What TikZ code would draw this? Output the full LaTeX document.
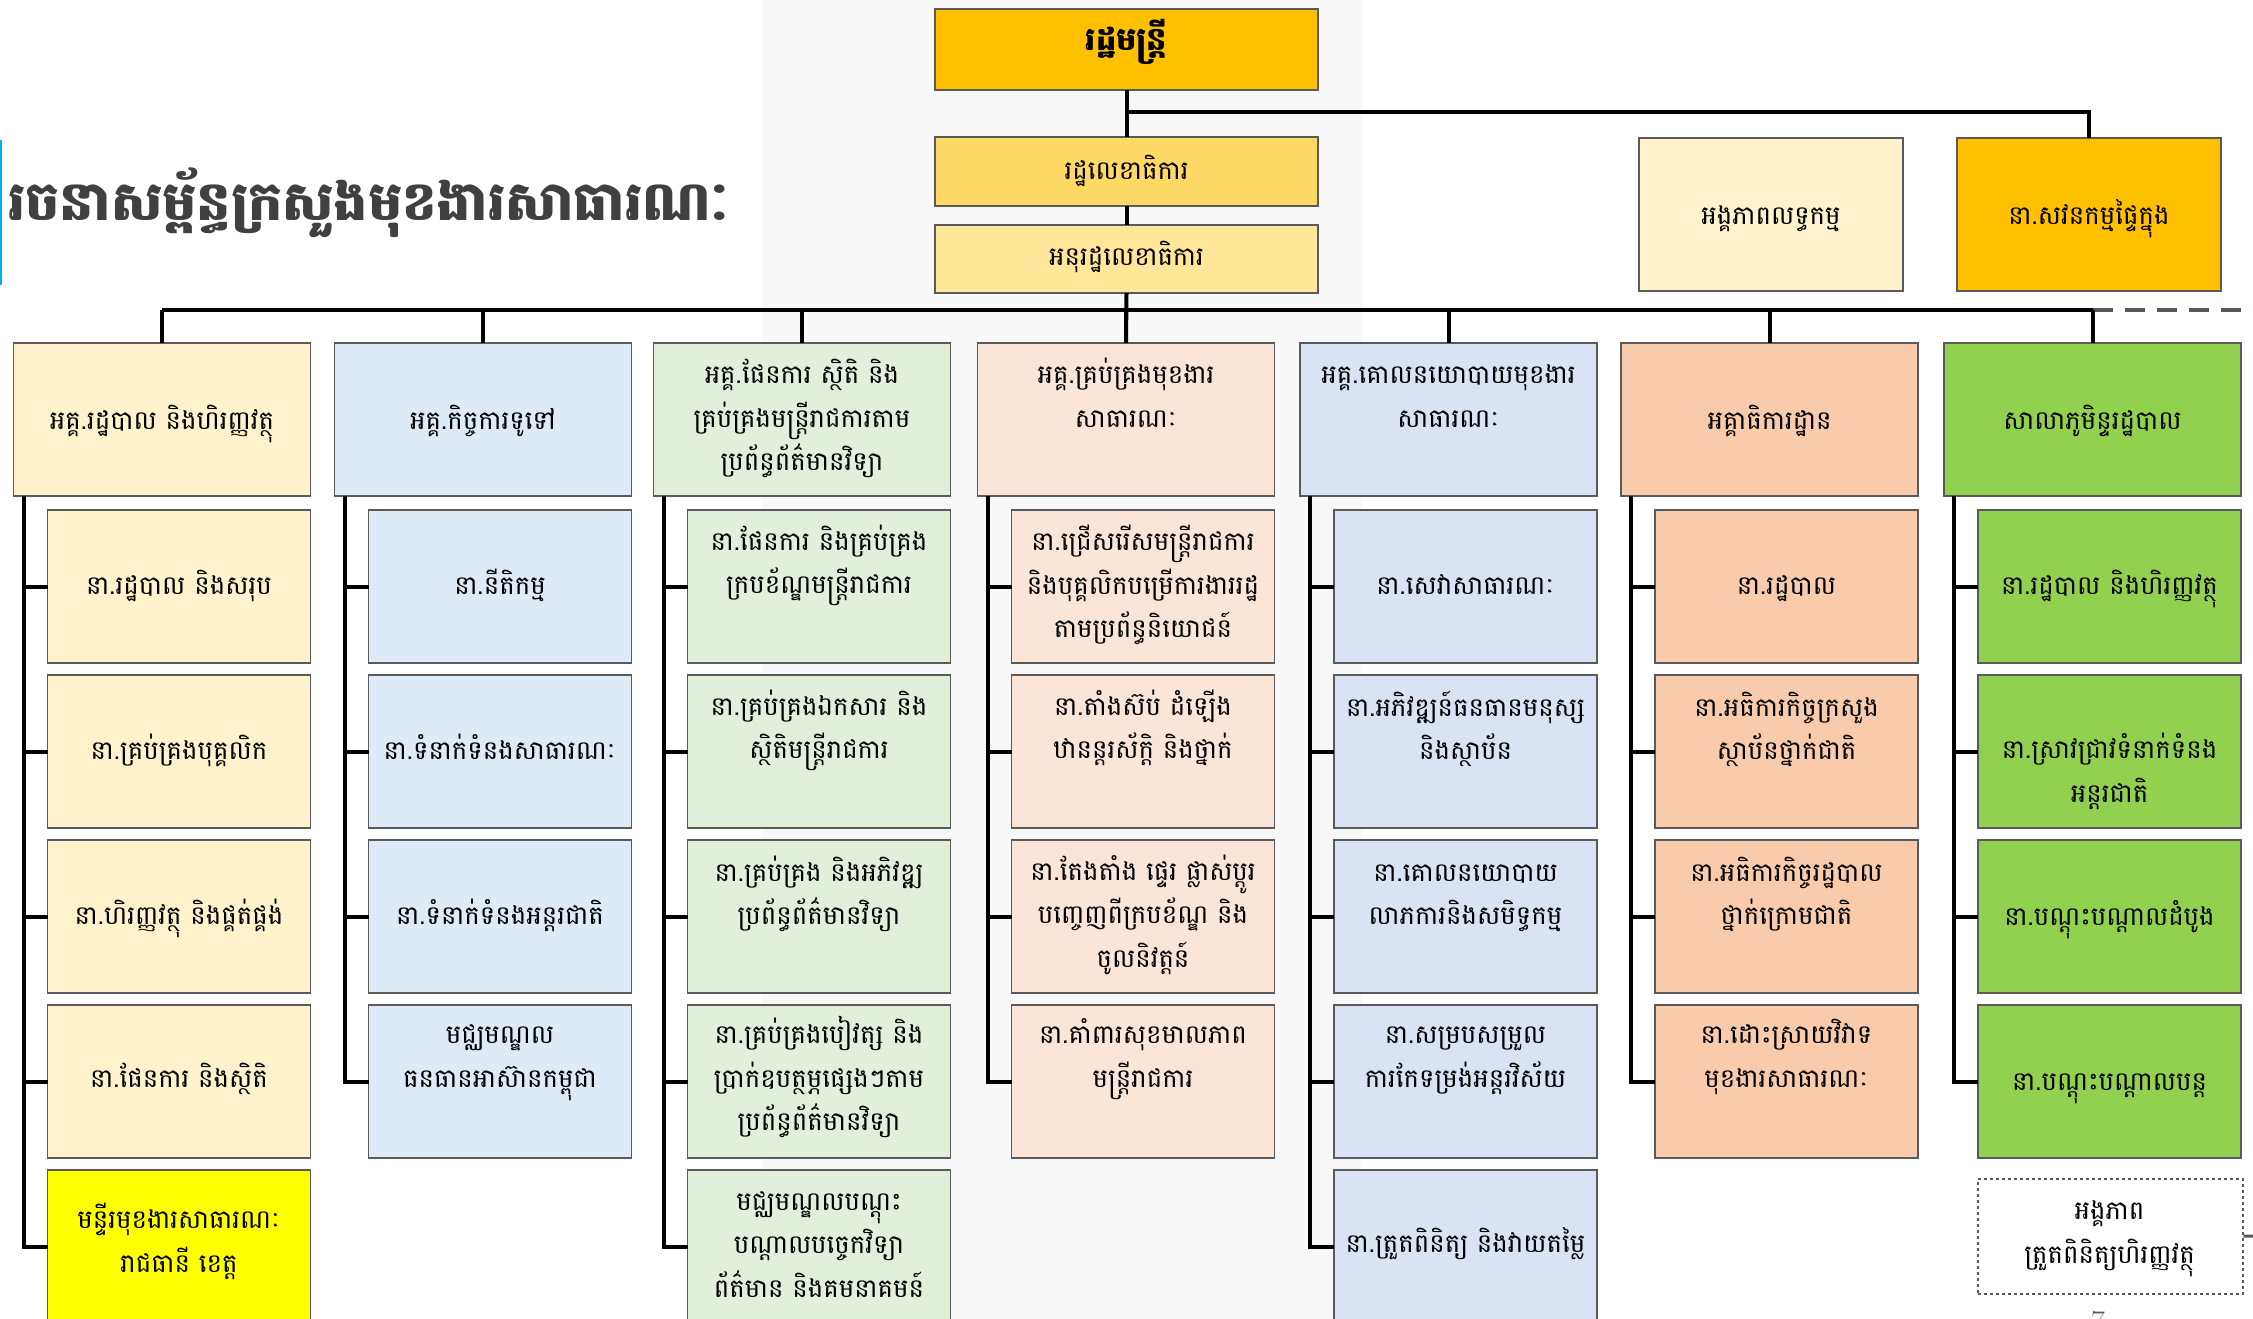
\documentclass[tikz,border=0pt]{standalone}
\usepackage{fontspec}
\newfontfamily\kh[Script=Khmer]{Battambang}
\usetikzlibrary{calc}
\definecolor{bandgray}{HTML}{F8F8F8}
\definecolor{edge}{HTML}{5A5A5A}
\definecolor{cTop}{HTML}{FFC000}
\definecolor{cSec}{HTML}{FFD966}
\definecolor{cDep}{HTML}{FFE699}
\definecolor{cA}{HTML}{FFF2CC}
\definecolor{cB}{HTML}{DEEBF7}
\definecolor{cC}{HTML}{E2EFDA}
\definecolor{cD}{HTML}{FBE5D6}
\definecolor{cE}{HTML}{DAE3F3}
\definecolor{cF}{HTML}{F8CBAD}
\definecolor{cG}{HTML}{92D050}
\definecolor{cY}{HTML}{FFFF00}
\definecolor{titlegray}{HTML}{404040}
\definecolor{cyanline}{HTML}{00B0F0}
\definecolor{dashgray}{HTML}{595959}
\newcommand\KL[1]{\smash{#1}\vrule width 0pt height 28pt depth 14pt}
\tikzset{
  frame/.style={draw=edge, line width=1.5pt, inner sep=0pt, outer sep=0pt},
  headbox/.style={frame, minimum width=297pt, minimum height=153pt},
  subbox/.style={frame, minimum width=263pt, minimum height=153pt},
  tx/.style={inner sep=0pt, align=center, font=\kh\fontsize{26}{43.5}\selectfont},
  conn/.style={draw=black, line width=4pt},
}
\newcommand\HB[5]{\node[headbox,fill=#2,anchor=north west] (#1) at (#3,343) {};
  \node[tx] (#1t) at (#3+148.5,#5) {#4};}
\newcommand\SB[6]{\node[subbox,fill=#2,anchor=north west] (#1) at (#3+34,#4) {};
  \node[tx] (#1t) at (#3+165.5,#6) {#5};}
\newcommand\CN[2]{\draw[conn] ([xshift=10pt]#1.south west) |- (#2.west);}
\begin{document}
\begin{tikzpicture}[x=1pt,y=-1pt]
\useasboundingbox (0,0) rectangle (2253,1319);
\fill[white] (0,0) rectangle (2253,1319);
\fill[bandgray] (762,0) rectangle (1362,1319);
\fill[cyanline] (0,140) rectangle (2,285);
% title
\node[anchor=west, inner sep=0pt, font=\kh\bfseries\fontsize{54}{60}\selectfont, text=titlegray] (title) at (8,205) {\smash{រចនាសម្ព័ន្ធក្រសួងមុខងារសាធារណៈ}\vrule width 0pt height 30pt depth 0pt};
% top boxes
\node[frame, fill=cTop, minimum width=383pt, minimum height=81pt, anchor=north west] (top) at (935,9) {};
\node[frame, fill=cSec, minimum width=383pt, minimum height=69pt, anchor=north west] (sec) at (935,137) {};
\node[frame, fill=cDep, minimum width=383pt, minimum height=68pt, anchor=north west] (dep) at (935,225) {};
\node[frame, fill=cA, minimum width=264pt, minimum height=153pt, anchor=north west] (proc) at (1639,138) {};
\node[frame, fill=cTop, minimum width=264pt, minimum height=153pt, anchor=north west] (aud) at (1957,138) {};
\node[tx, font=\kh\bfseries\fontsize{32}{43.5}\selectfont] (topt) at (1126.5,44) {\KL{រដ្ឋមន្ត្រី}};
\node[tx] (sect) at (1126.5,172) {\KL{រដ្ឋលេខាធិការ}};
\node[tx] (dept) at (1126.5,258) {\KL{អនុរដ្ឋលេខាធិការ}};
\node[tx] (proct) at (1771,217) {\KL{អង្គភាពលទ្ធកម្ម}};
\node[tx] (audt) at (2089,217) {\KL{នា.សវនកម្មផ្ទៃក្នុង}};
% column heads
\HB{c1}{cA}{13.5}{\KL{អគ្គ.រដ្ឋបាល និងហិរញ្ញវត្ថុ}}{422}
\HB{c2}{cB}{334.5}{\KL{អគ្គ.កិច្ចការទូទៅ}}{422}
\HB{c3}{cC}{653.5}{\KL{អគ្គ.ផែនការ ស្ថិតិ និង}\\\KL{គ្រប់គ្រងមន្ត្រីរាជការតាម}\\\KL{ប្រព័ន្ធព័ត៌មានវិទ្យា}}{420}
\HB{c4}{cD}{977.5}{\KL{អគ្គ.គ្រប់គ្រងមុខងារ}\\\KL{សាធារណៈ}}{398.5}
\HB{c5}{cE}{1300}{\KL{អគ្គ.គោលនយោបាយមុខងារ}\\\KL{សាធារណៈ}}{398.5}
\HB{c6}{cF}{1621}{\KL{អគ្គាធិការដ្ឋាន}}{422}
\HB{c7}{cG}{1944}{\KL{សាលាភូមិន្ទរដ្ឋបាល}}{422}
% column 1
\SB{a1}{cA}{13.5}{510}{\KL{នា.រដ្ឋបាល និងសរុប}}{587}
\SB{a2}{cA}{13.5}{675}{\KL{នា.គ្រប់គ្រងបុគ្គលិក}}{752}
\SB{a3}{cA}{13.5}{840}{\KL{នា.ហិរញ្ញវត្ថុ និងផ្គត់ផ្គង់}}{917}
\SB{a4}{cA}{13.5}{1005}{\KL{នា.ផែនការ និងស្ថិតិ}}{1080}
\SB{a5}{cY}{13.5}{1170}{\KL{មន្ទីរមុខងារសាធារណៈ}\\\KL{រាជធានី ខេត្ត}}{1243.5}
% column 2
\SB{b1}{cB}{334.5}{510}{\KL{នា.នីតិកម្ម}}{587}
\SB{b2}{cB}{334.5}{675}{\KL{នា.ទំនាក់ទំនងសាធារណៈ}}{752}
\SB{b3}{cB}{334.5}{840}{\KL{នា.ទំនាក់ទំនងអន្តរជាតិ}}{917}
\SB{b4}{cB}{334.5}{1005}{\KL{មជ្ឈមណ្ឌល}\\\KL{ធនធានអាស៊ានកម្ពុជា}}{1058.5}
% column 3
\SB{d1}{cC}{653.5}{510}{\KL{នា.ផែនការ និងគ្រប់គ្រង}\\\KL{ក្របខ័ណ្ឌមន្ត្រីរាជការ}}{565}
\SB{d2}{cC}{653.5}{675}{\KL{នា.គ្រប់គ្រងឯកសារ និង}\\\KL{ស្ថិតិមន្ត្រីរាជការ}}{730}
\SB{d3}{cC}{653.5}{840}{\KL{នា.គ្រប់គ្រង និងអភិវឌ្ឍ}\\\KL{ប្រព័ន្ធព័ត៌មានវិទ្យា}}{896}
\SB{d4}{cC}{653.5}{1005}{\KL{នា.គ្រប់គ្រងបៀវត្ស និង}\\\KL{ប្រាក់ឧបត្ថម្ភផ្សេងៗតាម}\\\KL{ប្រព័ន្ធព័ត៌មានវិទ្យា}}{1080}
\SB{d5}{cC}{653.5}{1170}{\KL{មជ្ឈមណ្ឌលបណ្តុះ}\\\KL{បណ្តាលបច្ចេកវិទ្យា}\\\KL{ព័ត៌មាន និងគមនាគមន៍}}{1246.5}
% column 4
\SB{e1}{cD}{977.5}{510}{\KL{នា.ជ្រើសរើសមន្ត្រីរាជការ}\\\KL{និងបុគ្គលិកបម្រើការងាររដ្ឋ}\\\KL{តាមប្រព័ន្ធនិយោជន៍}}{587}
\SB{e2}{cD}{977.5}{675}{\KL{នា.តាំងស៊ប់ ដំឡើង}\\\KL{ឋានន្តរស័ក្តិ និងថ្នាក់}}{730}
\SB{e3}{cD}{977.5}{840}{\KL{នា.តែងតាំង ផ្ទេរ ផ្លាស់ប្តូរ}\\\KL{បញ្ចេញពីក្របខ័ណ្ឌ និង}\\\KL{ចូលនិវត្តន៍}}{916.5}
\SB{e4}{cD}{977.5}{1005}{\KL{នា.គាំពារសុខមាលភាព}\\\KL{មន្ត្រីរាជការ}}{1058.5}
% column 5
\SB{f1}{cE}{1300}{510}{\KL{នា.សេវាសាធារណៈ}}{587}
\SB{f2}{cE}{1300}{675}{\KL{នា.អភិវឌ្ឍន៍ធនធានមនុស្ស}\\\KL{និងស្ថាប័ន}}{731}
\SB{f3}{cE}{1300}{840}{\KL{នា.គោលនយោបាយ}\\\KL{លាភការនិងសមិទ្ធកម្ម}}{896}
\SB{f4}{cE}{1300}{1005}{\KL{នា.សម្របសម្រួល}\\\KL{ការកែទម្រង់អន្តរវិស័យ}}{1058.5}
\SB{f5}{cE}{1300}{1170}{\KL{នា.ត្រួតពិនិត្យ និងវាយតម្លៃ}}{1245}
% column 6
\SB{g1}{cF}{1621}{510}{\KL{នា.រដ្ឋបាល}}{587}
\SB{g2}{cF}{1621}{675}{\KL{នា.អធិការកិច្ចក្រសួង}\\\KL{ស្ថាប័នថ្នាក់ជាតិ}}{731}
\SB{g3}{cF}{1621}{840}{\KL{នា.អធិការកិច្ចរដ្ឋបាល}\\\KL{ថ្នាក់ក្រោមជាតិ}}{896}
\SB{g4}{cF}{1621}{1005}{\KL{នា.ដោះស្រាយវិវាទ}\\\KL{មុខងារសាធារណៈ}}{1058.5}
% column 7
\SB{h1}{cG}{1944}{510}{\KL{នា.រដ្ឋបាល និងហិរញ្ញវត្ថុ}}{587}
\SB{h2}{cG}{1944}{675}{\KL{នា.ស្រាវជ្រាវទំនាក់ទំនង}\\\KL{អន្តរជាតិ}}{773.5}
\SB{h3}{cG}{1944}{840}{\KL{នា.បណ្តុះបណ្តាលដំបូង}}{918}
\SB{h4}{cG}{1944}{1005}{\KL{នា.បណ្តុះបណ្តាលបន្ត}}{1083}
% dashed unit
\node[draw=dashgray, dashed, line width=1.5pt, fill=white, minimum width=265pt, minimum height=115pt, inner sep=0pt, anchor=north west] (ins) at (1977,1178) {};
\node[tx] (inst) at (2109.5,1234.5) {\KL{អង្គភាព}\\\KL{ត្រួតពិនិត្យហិរញ្ញវត្ថុ}};
\coordinate (insR) at (2253,1236);
\draw[draw=dashgray, line width=3pt] (ins.east) -- (insR);
% top connectors
\coordinate (j1) at (1126.5,112);
\draw[conn] (top.south) -- (sec.north);
\draw[conn] (sec.south) -- (dep.north);
\draw[conn] (dep.south) -- (c4.north);
\draw[conn] (j1) -| (aud.north);
% bus
\coordinate (busL) at (162,310);
\coordinate (busR) at (2092.5,310);
\coordinate (edgeR) at (2253,310);
\draw[conn] (busL) -- (busR);
\draw[draw=dashgray, line width=4pt, dash pattern=on 20pt off 12pt] (busR) -- (edgeR);
\foreach \c in {c1,c2,c3,c4,c5,c6,c7} \draw[conn] (\c.north) -- (\c.north |- busL);
% column connectors
\CN{c1}{a1}\CN{c1}{a2}\CN{c1}{a3}\CN{c1}{a4}\CN{c1}{a5}
\CN{c2}{b1}\CN{c2}{b2}\CN{c2}{b3}\CN{c2}{b4}
\CN{c3}{d1}\CN{c3}{d2}\CN{c3}{d3}\CN{c3}{d4}\CN{c3}{d5}
\CN{c4}{e1}\CN{c4}{e2}\CN{c4}{e3}\CN{c4}{e4}
\CN{c5}{f1}\CN{c5}{f2}\CN{c5}{f3}\CN{c5}{f4}\CN{c5}{f5}
\CN{c6}{g1}\CN{c6}{g2}\CN{c6}{g3}\CN{c6}{g4}
\CN{c7}{h1}\CN{c7}{h2}\CN{c7}{h3}\CN{c7}{h4}
% page number
\node[inner sep=0pt, font=\fontsize{30}{30}\selectfont, text=dashgray, anchor=north] (pg) at (2098,1311) {7};
\end{tikzpicture}
\end{document}
